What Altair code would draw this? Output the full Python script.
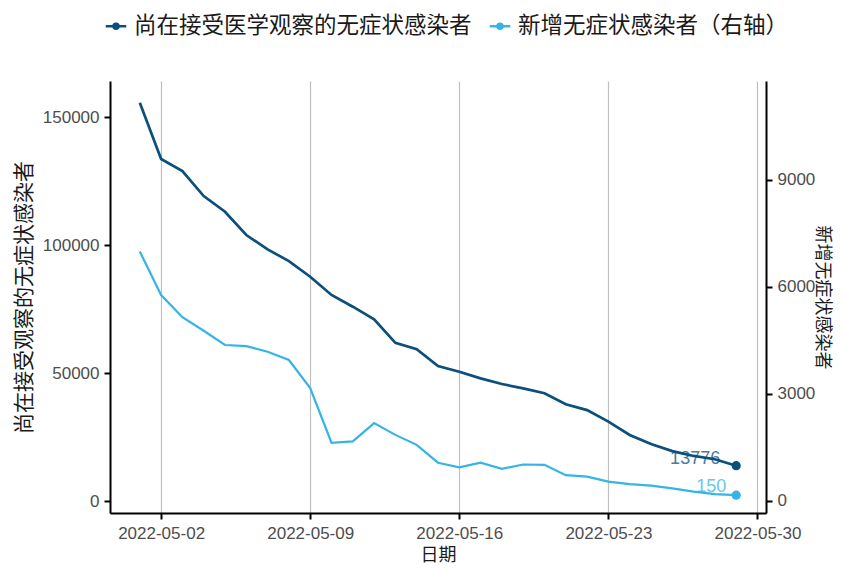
import altair as alt
import pandas as pd

# ---------------- data ----------------
dates = pd.date_range("2022-05-01", "2022-05-29", freq="D").strftime("%Y-%m-%d").tolist()

under_observation = [155600, 133600, 128900, 119100, 113000, 103900, 98300, 93700, 87600, 80500,
                     75900, 71000, 61800, 59300, 52700, 50500, 47900, 45700, 44000, 42100,
                     37800, 35500, 31000, 25800, 22300, 19500, 17600, 16300, 13776]

new_asymptomatic = [6980, 5760, 5140, 4760, 4360, 4330, 4170, 3940, 3150, 1620,
                    1660, 2170, 1840, 1560, 1060, 930, 1060, 890, 1010, 1000,
                    710, 670, 530, 460, 415, 340, 250, 180, 150]

series_names = ["尚在接受医学观察的无症状感染者", "新增无症状感染者（右轴）"]
series_colors = ["#0b4f7c", "#35b5e5"]

x_tick_dates = ["2022-05-02", "2022-05-09", "2022-05-16", "2022-05-23", "2022-05-30"]
left_ticks = [0, 50000, 100000, 150000]
right_ticks = [0, 3000, 6000, 9000]

# ---------------- tables ----------------
df_left = pd.DataFrame({"date": dates, "value": under_observation, "series": series_names[0]})
df_right = pd.DataFrame({"date": dates, "value": new_asymptomatic, "series": series_names[1]})
last_left = df_left.tail(1)
last_right = df_right.tail(1)


def ms(s):
    return int(pd.Timestamp(s, tz="UTC").value // 10**6)


x_enc = alt.X(
    "date:T",
    scale=alt.Scale(type="utc", domain=[ms("2022-04-29T14:24:00"), ms("2022-05-30T09:36:00")]),
    axis=alt.Axis(
        values=[ms(d) for d in x_tick_dates],
        labelExpr="utcFormat(datum.value, '%Y-%m-%d')",
        grid=True,
        title="日期",
        labelPadding=6,
        titleFontSize=18,
        titleY=42,
        titleBaseline="middle",
    ),
)

y_left = alt.Y(
    "value:Q",
    scale=alt.Scale(domain=[-4687.5, 164062.5], nice=False, zero=False),
    axis=alt.Axis(values=left_ticks, format="d", title="尚在接受观察的无症状感染者",
                  grid=False, orient="left", labelPadding=5, titlePadding=8),
)
y_right = alt.Y(
    "value:Q",
    scale=alt.Scale(domain=[-350, 11762], nice=False, zero=False),
    axis=alt.Axis(values=right_ticks, format="d", title="新增无症状感染者",
                  grid=False, orient="right", labelPadding=5,
                  titleX=55, titleAngle=90, titleBaseline="middle", titleFontSize=18),
)

symbol_path = ("M-1,0L1,0M0.24,0A0.24,0.24,0,1,1,-0.24,0"
               "A0.24,0.24,0,1,1,0.24,0Z")

color_enc = alt.Color(
    "series:N",
    scale=alt.Scale(domain=series_names, range=series_colors),
    legend=alt.Legend(
        title=None,
        orient="none",
        legendX=-6,
        legendY=-67,
        direction="horizontal",
        symbolType=symbol_path,
        symbolSize=420,
        symbolStrokeWidth=2.6,
        labelFont="Noto Sans CJK SC",
        labelFontSize=22.5,
        labelColor="#1a1a1a",
        labelLimit=1000,
        labelOffset=6,
        columnPadding=12,
    ),
)

line_l = alt.Chart(df_left).mark_line(strokeWidth=2.7).encode(x=x_enc, y=y_left, color=color_enc)
pt_l = alt.Chart(last_left).mark_point(filled=True, size=85, opacity=1, color=series_colors[0]).encode(
    x=x_enc, y=y_left)
txt_l = alt.Chart(last_left).mark_text(
    align="right", baseline="alphabetic", dx=-16, dy=-2, fontSize=18,
    font="Liberation Sans", color=series_colors[0], opacity=0.75
).encode(x=x_enc, y=y_left, text="value:Q")

line_r = alt.Chart(df_right).mark_line(strokeWidth=2.2).encode(x=x_enc, y=y_right, color=color_enc)
pt_r = alt.Chart(last_right).mark_point(filled=True, size=85, opacity=1, color=series_colors[1]).encode(
    x=x_enc, y=y_right)
txt_r = alt.Chart(last_right).mark_text(
    align="right", baseline="alphabetic", dx=-10, dy=-3, fontSize=18,
    font="Liberation Sans", color=series_colors[1], opacity=0.75
).encode(x=x_enc, y=y_right, text="value:Q")

left_layer = alt.layer(line_l, pt_l, txt_l)
right_layer = alt.layer(line_r, pt_r, txt_r)

chart = (
    alt.layer(left_layer, right_layer)
    .resolve_scale(y="independent")
    .properties(
        width=656,
        height=432,
        autosize=alt.AutoSizeParams(type="none"),
        padding={"left": 102, "top": 73, "right": 70, "bottom": 52},
        background="white",
    )
    .configure_view(strokeWidth=0)
    .configure_axis(
        labelFont="Liberation Sans",
        labelFontSize=17,
        labelColor="#4d4d4d",
        titleFont="Noto Sans CJK SC",
        titleFontSize=21,
        titleFontWeight="normal",
        titleColor="#1a1a1a",
        domainColor="#000000",
        domainWidth=2,
        tickColor="#000000",
        tickWidth=2,
        tickSize=6,
        gridColor="#bfbfbf",
        gridWidth=1.2,
    )
)

chart.save("out.html", embed_options={"renderer": "svg", "actions": False})
